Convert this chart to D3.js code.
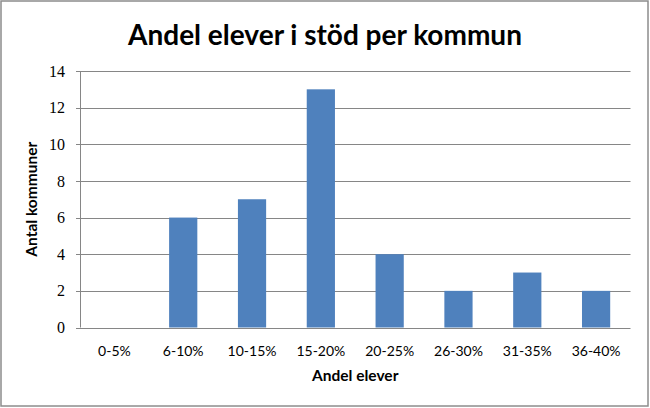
<!DOCTYPE html>
<html><head><meta charset="utf-8">
<script src="https://cdn.jsdelivr.net/npm/d3@7"></script>
<style>body{margin:0;background:#fff}svg{display:block}</style>
</head><body>
<script>
const categories = ["0-5%","6-10%","10-15%","15-20%","20-25%","26-30%","31-35%","36-40%"];
const values = [0,6,7,13,4,2,3,2];
const yTicks = [0,2,4,6,8,10,12,14];
const title = "Andel elever i stöd per kommun";
const xTitle = "Andel elever";
const yTitle = "Antal kommuner";

const W = 650, H = 408;
const m = {left:80, right:19.5, top:71, bottom:80.5};
const svg = d3.select("body").append("svg").attr("width",W).attr("height",H);
svg.append("rect").attr("x",1).attr("y",1).attr("width",W-3).attr("height",H-3)
  .attr("fill","#fff").attr("stroke","#8c8c8c").attr("stroke-width",1.5);

const x = d3.scaleBand().domain(categories).range([m.left, W-m.right]).paddingInner(0.59).paddingOuter(0.295);
const xb = d3.scaleBand().domain(categories).range([m.left, W-m.right]);
const y = d3.scaleLinear().domain([0,14]).range([H-m.bottom, m.top]);

// gridlines
svg.append("g").selectAll("line").data(yTicks).join("line")
  .attr("x1",m.left-4).attr("x2",W-m.right)
  .attr("y1",d=>Math.round(y(d))+0.5).attr("y2",d=>Math.round(y(d))+0.5)
  .attr("stroke","#868686").attr("stroke-width",1);
// y axis line
svg.append("line").attr("x1",m.left+0.5).attr("x2",m.left+0.5)
  .attr("y1",y(14)).attr("y2",y(0)).attr("stroke","#868686");

// bars
svg.append("g").selectAll("rect").data(values).join("rect")
  .attr("x",(d,i)=>x(categories[i])).attr("width",x.bandwidth())
  .attr("y",d=>y(d)).attr("height",d=>y(0)-y(d)).attr("fill","#4F81BD");

// y tick labels
svg.append("g").selectAll("text").data(yTicks).join("text")
  .attr("x",65).attr("y",d=>y(d)).attr("dy","0.35em").attr("text-anchor","end")
  .attr("font-family","Liberation Serif, serif").attr("font-size",16).attr("fill","#000")
  .text(d=>d);

// x labels
svg.append("g").selectAll("text").data(categories).join("text")
  .attr("x",d=>xb(d)+xb.bandwidth()/2).attr("y",351).attr("dy","0.35em").attr("text-anchor","middle")
  .attr("font-family","Lato, sans-serif").attr("font-size",14).attr("fill","#000")
  .text(d=>d);

// axis titles
svg.append("text").attr("x",(m.left+W-m.right)/2).attr("y",376).attr("dy","0.35em").attr("text-anchor","middle")
  .attr("font-family","Lato, sans-serif").attr("font-weight","bold").attr("font-size",15.5).text(xTitle);
svg.append("text").attr("transform",`translate(32,${(y(0)+y(14))/2}) rotate(-90)`).attr("dy","0.35em")
  .attr("text-anchor","middle").attr("font-family","Lato, sans-serif").attr("font-weight","bold").attr("font-size",15.5).text(yTitle);

// title
svg.append("text").attr("x",325).attr("y",35).attr("dy","0.35em").attr("text-anchor","middle")
  .attr("font-family","Lato, sans-serif").attr("font-weight","bold").attr("font-size",28).text(title);
</script>
</body></html>
